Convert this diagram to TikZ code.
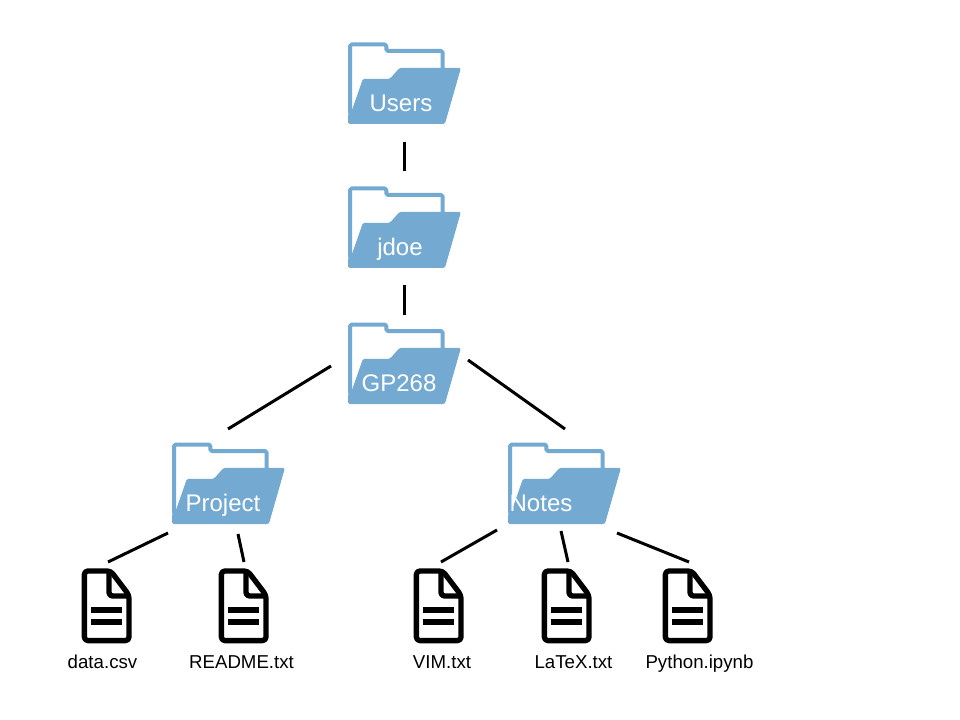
\documentclass[tikz,border=0pt]{standalone}
\usepackage{fontspec}
\setmainfont{Liberation Sans}
\definecolor{folderblue}{HTML}{74A9D2}
\tikzset{
  link/.style={draw=black,line width=2.25pt},
  folderback/.style={draw=folderblue,fill=white,line width=3pt,rounded corners=1.2pt,line join=round},
  folderfront/.style={fill=folderblue,draw=folderblue,line width=0.75pt,rounded corners=1pt,line join=round},
  folderbox/.style={minimum width=84.75pt,minimum height=61.5pt,inner sep=0pt,outer sep=0pt},
  folderlabel/.style={text=white,font=\fontsize{18}{20}\selectfont,inner sep=0pt},
  filebody/.style={draw=black,fill=white,line width=4pt,line join=round,rounded corners=2.6pt},
  filerule/.style={draw=black,line width=4.4pt},
  filebox/.style={minimum width=37.5pt,minimum height=57pt,inner sep=0pt,outer sep=0pt},
  filelabel/.style={text=black,font=\fontsize{14}{16}\selectfont,inner sep=0pt},
}
\newcommand{\myfolder}[5]{%
  \begin{scope}[shift={(#2,#3)}]
    \path[folderback] (2,2) -- (38.3,2) -- (38.3,8.5) -- (94.7,8.5) -- (94.7,60) -- (2,72) -- cycle;
    \path[folderfront] (0.5,81) -- (0.5,72) -- (4.2,68.5) -- (15.3,36.8) -- (42,36.8) -- (52,25.8) -- (112.3,25.8) -- (96.5,81) -- cycle;
    \node[folderbox] (#1) at (56.5,41) {};
  \end{scope}
  \node[folderlabel,anchor=base] (#1-label) at (#2+#5,#3+69) {#4};
}
\newcommand{\myfile}[3]{%
  \begin{scope}[shift={(#2,#3)}]
    \path[filebody] (2.85,3) -- (29.2,3) -- (47.5,27.1) -- (47.5,72.6) -- (2.85,72.6) -- cycle;
    \path[filebody,fill=none] (27.5,3.5) -- (27.5,28) -- (47,28);
    \path[filerule] (9.5,41.7) -- (40.8,41.7);
    \path[filerule] (9.5,54) -- (40.8,54);
    \node[filebox] (#1) at (25,37.8) {};
  \end{scope}
}
\begin{document}
\begin{tikzpicture}[x=0.75pt,y=-0.75pt]
\useasboundingbox (0,0) rectangle (960,720);
\myfolder{users}{348}{42.5}{Users}{53}
\myfolder{jdoe}{348}{186.5}{jdoe}{52}
\myfolder{gp}{348}{322.5}{GP268}{51}
\myfolder{project}{172}{442.5}{Project}{51}
\myfolder{notes}{508}{442.5}{Notes}{33}
\myfile{data}{81.5}{568}
\myfile{readme}{218.5}{568}
\myfile{vim}{413.5}{568}
\myfile{latex}{541.5}{568}
\myfile{python}{662.5}{568}
\node[filelabel,anchor=base] (data-label) at (102.5,668) {data.csv};
\node[filelabel,anchor=base] (readme-label) at (241.5,668) {README.txt};
\node[filelabel,anchor=base] (vim-label) at (442,668) {VIM.txt};
\node[filelabel,anchor=base] (latex-label) at (573.5,668) {LaTeX.txt};
\node[filelabel,anchor=base] (python-label) at (699.5,668) {Python.ipynb};
\path[link] ([shift={(-0.5,17.5)}]users.south) -- ([shift={(-0.5,-15.5)}]jdoe.north);
\path[link] ([shift={(-0.5,16.5)}]jdoe.south) -- ([shift={(-0.5,-7.5)}]gp.north);
\path[link] ([shift={(-17,2.5)}]gp.west) -- ([shift={(-0.5,-13.5)}]project.north);
\path[link] ([shift={(7,-3.5)}]gp.east) -- ([shift={(0.5,-13.5)}]notes.north);
\path[link] ([shift={(-60.5,8.5)}]project.south) -- ([shift={(1.5,-5.8)}]data.north);
\path[link] ([shift={(9.5,9.5)}]project.south) -- ([shift={(0.5,-5.8)}]readme.north);
\path[link] ([shift={(-67.5,5.5)}]notes.south) -- ([shift={(2.5,-5.8)}]vim.north);
\path[link] ([shift={(-3.5,6.5)}]notes.south) -- ([shift={(1.5,-5.8)}]latex.north);
\path[link] ([shift={(52.5,8.5)}]notes.south) -- ([shift={(1.5,-5.8)}]python.north);
\end{tikzpicture}
\end{document}
